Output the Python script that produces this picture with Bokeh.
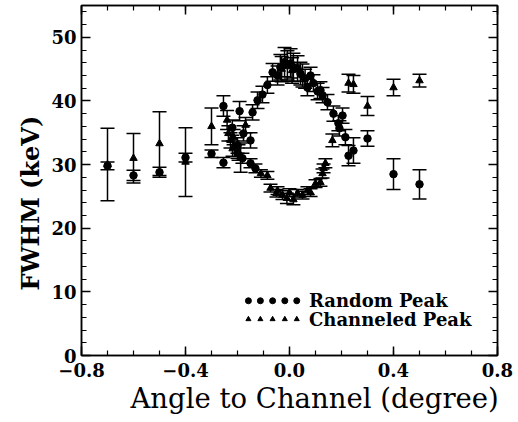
from bokeh.plotting import figure
from bokeh.models import ColumnDataSource, Whisker, TeeHead, LinearAxis, FixedTicker, Range1d, Title
from bokeh.core.properties import value
from bokeh.embed import file_html
from bokeh.resources import INLINE

# ---- data ----
random_x = [-0.70, -0.60, -0.50, -0.40, -0.30, -0.254, -0.254, -0.192, -0.142, -0.123, -0.104,
            -0.085, -0.065, -0.046, -0.035, -0.019, -0.008, 0.004, 0.015, 0.031, 0.042, 0.060,
            0.069, 0.081, 0.092, 0.108, 0.119, 0.127, 0.146, 0.169, 0.188, 0.192, 0.204, 0.215,
            0.227, 0.246, 0.300, 0.400, 0.500,
            -0.220, -0.200, -0.177, -0.150, -0.200, -0.181, -0.150, -0.131]
random_y = [29.8, 28.3, 28.8, 31.1, 31.7, 30.3, 39.2, 38.4, 38.2, 40.1, 41.0,
            42.5, 44.5, 44.0, 45.3, 46.1, 45.6, 45.9, 45.3, 45.1, 44.3, 43.5,
            42.1, 44.0, 42.8, 41.5, 41.7, 40.9, 39.8, 38.0, 36.5, 35.7, 37.7, 34.3,
            31.4, 32.2, 34.1, 28.5, 26.9,
            35.8, 33.0, 34.9, 33.8, 31.8, 31.0, 30.2, 29.4]
random_err = [0.6, 0.8, 0.8, 0.7, 0.6, 0.8, 1.6, 1.5, 1.2, 1.3, 1.3,
              1.3, 1.4, 1.5, 2.0, 2.3, 2.3, 2.3, 2.2, 2.0, 1.8, 1.5,
              1.3, 1.3, 1.3, 1.3, 1.3, 1.2, 1.2, 1.2, 1.2, 1.2, 1.2, 1.2,
              1.6, 2.0, 1.2, 2.4, 2.3,
              1.2, 1.2, 1.2, 1.2, 0.8, 0.8, 0.7, 0.7]

chan_x = [-0.70, -0.60, -0.50, -0.40, -0.30, -0.240, -0.235, -0.227, -0.219, -0.215, -0.196,
          -0.188, -0.169, -0.110, -0.085, -0.073, -0.050, -0.046, -0.027, -0.010, 0.000, 0.015,
          0.031, 0.050, 0.069, 0.081, 0.100, 0.119, 0.127, 0.131, 0.138, 0.165, 0.227, 0.246,
          0.300, 0.400, 0.500, -0.030, 0.010, 0.050]
chan_y = [30.0, 31.0, 33.3, 30.4, 36.0, 37.0, 34.9, 33.8, 32.5, 34.3, 31.9,
          31.1, 36.2, 28.6, 28.3, 26.3, 25.5, 25.9, 25.2, 24.7, 25.6, 24.5,
          25.5, 25.2, 25.9, 25.6, 27.0, 27.2, 28.6, 29.4, 30.2, 33.8, 42.8, 42.6,
          39.2, 42.1, 43.2, 45.0, 44.8, 44.0]
chan_err = [5.7, 3.9, 5.0, 5.4, 2.9, 1.5, 1.2, 1.2, 1.2, 1.2, 1.2,
            2.3, 1.2, 0.6, 0.6, 0.6, 0.6, 0.6, 0.7, 0.8, 0.6, 0.8,
            0.6, 0.6, 0.6, 0.6, 0.6, 0.6, 0.7, 0.7, 0.7, 1.0, 1.4, 1.4,
            1.5, 1.3, 1.0, 2.0, 2.0, 1.8]

x_ticks = [-0.8, -0.4, 0.0, 0.4, 0.8]
x_tick_labels = ["\u22120.8", "\u22120.4", "0.0", "0.4", "0.8"]
y_ticks = [0, 10, 20, 30, 40, 50]

x_label = "Angle to Channel (degree)"
y_label = "FWHM (keV)"

legend_x = [-0.158, -0.112, -0.065, -0.018, 0.028]
legend_labels = ["Random Peak", "Channeled Peak"]
legend_y = [8.6, 5.7]

FONT = "DejaVu Serif"

p = figure(width=518, height=422, output_backend="svg", toolbar_location=None,
           x_range=Range1d(-0.8, 0.8), y_range=Range1d(0, 55),
           min_border_left=81, min_border_right=21, min_border_top=5, min_border_bottom=67,
           background_fill_color="white", border_fill_color="white")
p.grid.visible = False
p.outline_line_color = "black"
p.outline_line_width = 1.5

x_minor = [round(-0.8 + 0.1 * i, 2) for i in range(17)]
y_minor = list(range(0, 56, 2))

def style_axis(ax):
    ax.major_tick_in = 9
    ax.major_tick_out = 0
    ax.minor_tick_in = 5
    ax.minor_tick_out = 0
    ax.axis_line_color = "black"
    ax.axis_line_width = 1.5
    ax.major_tick_line_width = 1.5
    ax.minor_tick_line_width = 1.2
    ax.major_label_text_font = FONT
    ax.major_label_text_font_style = "bold"
    ax.major_label_text_font_size = "18px"
    ax.major_label_text_color = "black"

xa = p.xaxis[0]
xa.ticker = FixedTicker(ticks=x_ticks, minor_ticks=x_minor)
xa.major_label_overrides = {t: l for t, l in zip(x_ticks, x_tick_labels)}
style_axis(xa)
xa.major_label_standoff = 7

ya = p.yaxis[0]
ya.ticker = FixedTicker(ticks=y_ticks, minor_ticks=y_minor)
style_axis(ya)
ya.major_label_standoff = 5

for loc in ("above", "right"):
    ax = LinearAxis()
    if loc == "above":
        ax.ticker = FixedTicker(ticks=x_ticks, minor_ticks=x_minor)
        ax.major_label_overrides = {t: "" for t in x_ticks}
    else:
        ax.ticker = FixedTicker(ticks=y_ticks, minor_ticks=y_minor)
        ax.major_label_overrides = {t: "" for t in y_ticks}
    style_axis(ax)
    ax.major_label_standoff = 0
    p.add_layout(ax, loc)

p.add_layout(Title(text=x_label, align="left", offset=49, text_font=FONT,
                   text_font_style="normal", text_font_size="27.5px", text_color="black",
                   standoff=0), "below")
p.add_layout(Title(text=y_label, align="left", offset=65, text_font=FONT,
                   text_font_style="bold", text_font_size="24px", text_color="black",
                   standoff=7), "left")

rs = ColumnDataSource(dict(x=random_x, y=random_y,
                           lo=[a - b for a, b in zip(random_y, random_err)],
                           hi=[a + b for a, b in zip(random_y, random_err)]))
cs = ColumnDataSource(dict(x=chan_x, y=chan_y,
                           lo=[a - b for a, b in zip(chan_y, chan_err)],
                           hi=[a + b for a, b in zip(chan_y, chan_err)]))

for src in (rs, cs):
    w = Whisker(source=src, base="x", lower="lo", upper="hi", dimension="height",
                line_color="black", line_width=1.5,
                upper_head=TeeHead(size=14, line_color="black", line_width=1.5),
                lower_head=TeeHead(size=14, line_color="black", line_width=1.5))
    p.add_layout(w)

p.scatter("x", "y", source=rs, marker="circle", size=7.5, fill_color="black", line_color="black")
p.scatter("x", "y", source=cs, marker="triangle", size=7.5, fill_color="black", line_color="black")

# legend
p.scatter(legend_x, [legend_y[0]] * 5, marker="circle", size=6, color="black")
p.scatter(legend_x, [legend_y[1]] * 5, marker="triangle", size=5, color="black")
p.text(x=[0.075, 0.075], y=legend_y, text=legend_labels, text_font=value(FONT),
       text_font_style="bold", text_font_size="18px", text_baseline="middle",
       text_align="left", text_color="black")

open("out.html", "w").write(file_html(p, INLINE))
